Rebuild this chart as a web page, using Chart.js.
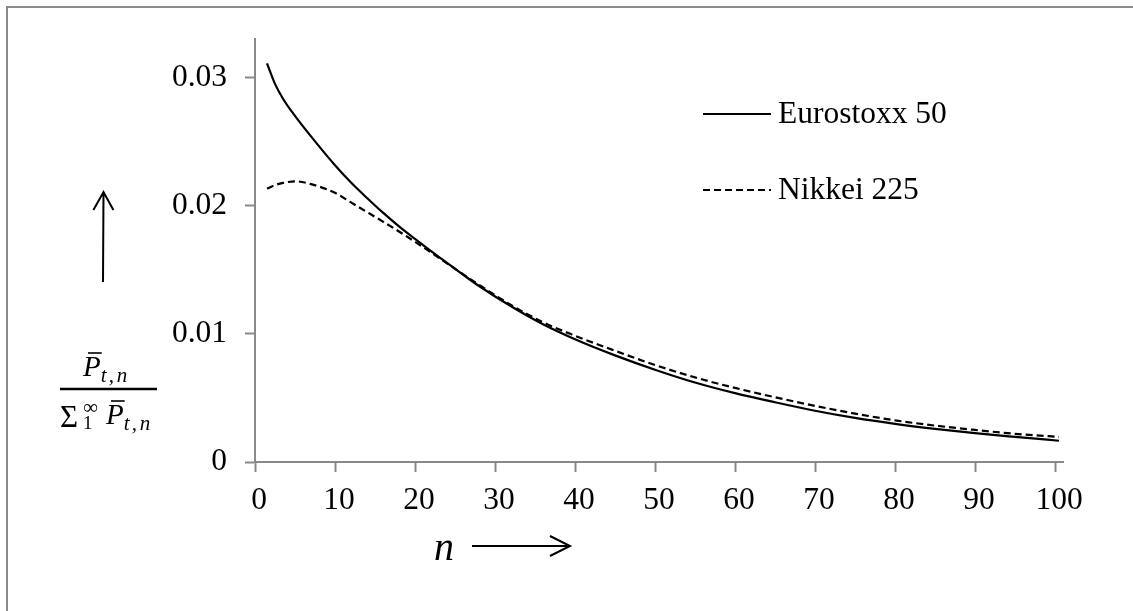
<!DOCTYPE html>
<html>
<head>
<meta charset="utf-8">
<script src="https://cdn.jsdelivr.net/npm/chart.js@4/dist/chart.umd.min.js"></script>
<style>
  html, body { margin: 0; padding: 0; background: #ffffff; }
  #wrap { width: 1133px; height: 611px; position: relative; }
</style>
</head>
<body>
<div id="wrap"><canvas id="c" width="1133" height="611"></canvas></div>
<script>
// Maturity index n and the normalised weights of each index
const nValues     = [1.5, 2.5, 3.5, 5, 7, 10, 12, 14, 16, 18, 20, 22, 24, 26, 28, 32, 36, 40, 45, 50, 55, 60, 65, 70, 75, 80, 85, 90, 95, 100.5];
const eurostoxx50 = [0.0311, 0.0295, 0.02834, 0.0270, 0.0254, 0.02315, 0.0218, 0.0206, 0.01945, 0.01838, 0.0174, 0.01645, 0.01553, 0.01462, 0.01373, 0.01215, 0.01075, 0.00958, 0.00832, 0.0072, 0.0062, 0.00537, 0.00466, 0.0040, 0.00344, 0.00298, 0.00259, 0.00225, 0.00196, 0.00166];
const nikkei225   = [0.02133, 0.0216, 0.02177, 0.0219, 0.02168, 0.0210, 0.02025, 0.0195, 0.01875, 0.01798, 0.01718, 0.01635, 0.0155, 0.01465, 0.01382, 0.01225, 0.0109, 0.00985, 0.00868, 0.00757, 0.0066, 0.00578, 0.00505, 0.00438, 0.00378, 0.00325, 0.00284, 0.0025, 0.0022, 0.00196];
const seriesNames = ['Eurostoxx 50', 'Nikkei 225'];

const xTickValues = [0, 10, 20, 30, 40, 50, 60, 70, 80, 90, 100];
const xTickLabels = ['0', '10', '20', '30', '40', '50', '60', '70', '80', '90', '100'];
const yTickValues = [0, 0.01, 0.02, 0.03];
const yTickLabels = ['0', '0.01', '0.02', '0.03'];

const AXIS_GREY = '#898989';
const SERIF = '"Liberation Serif", "Times New Roman", serif';

const toPoints = (ys) => nValues.map((n, i) => ({ x: n, y: ys[i] }));

// Free-standing drawing: frame, axis arrows, the y-axis fraction and the legend
const decorations = {
  id: 'decorations',
  afterDraw(chart) {
    const ctx = chart.ctx;
    ctx.save();

    // outer frame (left and top edges)
    ctx.strokeStyle = AXIS_GREY;
    ctx.lineWidth = 2;
    ctx.beginPath();
    ctx.moveTo(7, 611);
    ctx.lineTo(7, 7);
    ctx.lineTo(1133, 7);
    ctx.stroke();

    // arrows
    const arrow = (x1, y1, x2, y2, len, half) => {
      const a = Math.atan2(y2 - y1, x2 - x1);
      const cos = Math.cos(a), sin = Math.sin(a);
      ctx.beginPath();
      ctx.moveTo(x1, y1);
      ctx.lineTo(x2, y2);
      ctx.moveTo(x2 - len * cos + half * sin, y2 - len * sin - half * cos);
      ctx.lineTo(x2, y2);
      ctx.lineTo(x2 - len * cos - half * sin, y2 - len * sin + half * cos);
      ctx.stroke();
    };
    ctx.strokeStyle = '#000';
    ctx.lineWidth = 2;
    ctx.lineCap = 'butt';
    arrow(103, 282, 103.5, 192, 18, 10);
    arrow(472, 546, 570, 546, 20, 10);

    // x-axis symbol
    ctx.fillStyle = '#000';
    ctx.textBaseline = 'alphabetic';
    ctx.textAlign = 'left';
    ctx.font = 'italic 40px ' + SERIF;
    ctx.fillText('n', 434, 560);

    // subscript "t,n" with generous spacing
    const sub = (x, base) => {
      ctx.font = 'italic 21px ' + SERIF;
      ctx.fillText('t', x, base);
      ctx.fillText(',', x + 8, base);
      ctx.fillText('n', x + 16, base);
    };
    // P with an overbar
    const pBar = (x, base) => {
      ctx.font = 'italic 29px ' + SERIF;
      ctx.fillText('P', x, base);
      const w = ctx.measureText('P').width;
      ctx.lineWidth = 1.6;
      ctx.beginPath();
      ctx.moveTo(x + 5, base - 23);
      ctx.lineTo(x + w + 1, base - 23);
      ctx.stroke();
      sub(x + w, base + 6);
    };

    // y-axis fraction
    pBar(83, 376);

    ctx.lineWidth = 2.5;
    ctx.beginPath();
    ctx.moveTo(60, 389);
    ctx.lineTo(157, 389);
    ctx.stroke();

    ctx.font = '31px ' + SERIF;
    ctx.fillText('\u03A3', 60, 427);
    ctx.font = '19px ' + SERIF;
    ctx.fillText('1', 83, 429);
    ctx.font = '21px ' + SERIF;
    ctx.fillText('\u221E', 83, 414);
    pBar(106, 424);

    // legend
    ctx.font = '31.5px ' + SERIF;
    ctx.textBaseline = 'middle';
    const rows = [114, 190];
    chart.data.datasets.forEach((ds, i) => {
      const y = rows[i];
      ctx.strokeStyle = ds.borderColor;
      ctx.lineWidth = ds.borderWidth;
      ctx.setLineDash(ds.borderDash || []);
      ctx.beginPath();
      ctx.moveTo(703, y);
      ctx.lineTo(771, y);
      ctx.stroke();
      ctx.setLineDash([]);
      ctx.fillStyle = '#000';
      ctx.fillText(ds.label, 778, y + 1);
    });

    ctx.restore();
  }
};

new Chart(document.getElementById('c'), {
  type: 'line',
  data: {
    datasets: [
      {
        label: seriesNames[0],
        data: toPoints(eurostoxx50),
        borderColor: '#000',
        borderWidth: 2.2,
        pointRadius: 0,
        cubicInterpolationMode: 'monotone',
        fill: false
      },
      {
        label: seriesNames[1],
        data: toPoints(nikkei225),
        borderColor: '#000',
        borderWidth: 2.2,
        borderDash: [7, 4],
        pointRadius: 0,
        cubicInterpolationMode: 'monotone',
        fill: false
      }
    ]
  },
  options: {
    responsive: false,
    animation: false,
    devicePixelRatio: 1,
    layout: { padding: { top: 39, left: 0, right: 70, bottom: 0 } },
    plugins: { legend: { display: false }, tooltip: { enabled: false } },
    scales: {
      x: {
        type: 'linear',
        min: 0,
        max: 101,
        afterBuildTicks: (s) => { s.ticks = xTickValues.map(v => ({ value: v })); },
        afterFit: (s) => { s.height = 149; s.paddingLeft = 0; s.paddingRight = 0; },
        ticks: {
          callback: (v) => xTickLabels[xTickValues.indexOf(v)],
          color: '#000',
          font: { family: SERIF, size: 31.5 },
          padding: 10,
          labelOffset: 4,
          maxRotation: 0,
          autoSkip: false
        },
        grid: { drawOnChartArea: false, drawTicks: true, tickLength: 10, tickColor: AXIS_GREY, tickWidth: 2 },
        border: { display: true, color: AXIS_GREY, width: 2 }
      },
      y: {
        type: 'linear',
        min: 0,
        max: 0.033,
        afterBuildTicks: (s) => { s.ticks = yTickValues.map(v => ({ value: v })); },
        afterFit: (s) => { s.width = 255; s.paddingTop = 0; s.paddingBottom = 0; },
        ticks: {
          callback: (v) => yTickLabels[yTickValues.indexOf(v)],
          color: '#000',
          font: { family: SERIF, size: 31.5 },
          padding: 18
        },
        grid: { drawOnChartArea: false, drawTicks: true, tickLength: 10, tickColor: AXIS_GREY, tickWidth: 2 },
        border: { display: true, color: AXIS_GREY, width: 2 }
      }
    }
  },
  plugins: [decorations]
});
</script>
</body>
</html>
